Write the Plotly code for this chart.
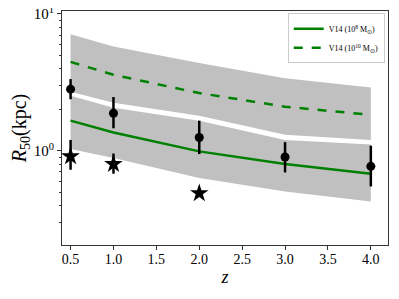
import numpy as np
import plotly.graph_objects as go

# model redshifts
z_model = [0.5, 1.0, 2.0, 3.0, 4.0]
# V14 10^10 Msun (dashed) and its band
r_hi = [4.46, 3.59, 2.64, 2.10, 1.83]
r_hi_up = [7.11, 5.77, 4.37, 3.39, 2.90]
r_hi_lo = [2.70, 2.24, 1.80, 1.31, 1.20]
# V14 10^8 Msun (solid) and its band
r_lo = [1.66, 1.36, 0.99, 0.80, 0.68]
r_lo_up = [2.52, 2.06, 1.66, 1.20, 1.11]
r_lo_lo = [1.03, 0.885, 0.632, 0.505, 0.427]

# observed points (circles)
z_obs = [0.5, 1.0, 2.0, 3.0, 4.0]
r_obs = [2.82, 1.88, 1.25, 0.90, 0.77]
r_obs_up = [3.34, 2.47, 1.66, 1.157, 1.09]
r_obs_dn = [2.38, 1.46, 0.946, 0.695, 0.549]

# stars
z_star = [0.5, 1.0, 2.0]
r_star = [0.91, 0.80, 0.49]
r_star_up = [1.20, 0.955, 0.49]
r_star_dn = [0.727, 0.68, 0.49]

x_ticks = [0.5, 1.0, 1.5, 2.0, 2.5, 3.0, 3.5, 4.0]

GRAY = "#c0c0c0"
GREEN = "#008000"
FONT = "Liberation Serif"

fig = go.Figure()

for lo, up in [(r_hi_lo, r_hi_up), (r_lo_lo, r_lo_up)]:
    fig.add_trace(go.Scatter(x=z_model, y=lo, mode="lines", line=dict(width=0, color=GRAY),
                             showlegend=False, hoverinfo="skip"))
    fig.add_trace(go.Scatter(x=z_model, y=up, mode="lines", line=dict(width=0, color=GRAY),
                             fill="tonexty", fillcolor=GRAY, showlegend=False, hoverinfo="skip"))

fig.add_trace(go.Scatter(x=z_model, y=r_lo, mode="lines", line=dict(color=GREEN, width=2.5),
                         name="V14 (10<sup>8</sup> M<sub>⊙</sub>)"))
fig.add_trace(go.Scatter(x=z_model, y=r_hi, mode="lines", line=dict(color=GREEN, width=2.5, dash="dash"),
                         name="V14 (10<sup>10</sup> M<sub>⊙</sub>)"))

fig.add_trace(go.Scatter(
    x=z_obs, y=r_obs, mode="markers", marker=dict(symbol="circle", size=9, color="black"),
    error_y=dict(type="data", symmetric=False,
                 array=[u - v for u, v in zip(r_obs_up, r_obs)],
                 arrayminus=[v - d for v, d in zip(r_obs, r_obs_dn)],
                 color="black", thickness=2.5, width=0),
    showlegend=False))

fig.add_trace(go.Scatter(
    x=z_star, y=r_star, mode="markers", marker=dict(symbol="star", size=14, color="black"),
    error_y=dict(type="data", symmetric=False,
                 array=[u - v for u, v in zip(r_star_up, r_star)],
                 arrayminus=[v - d for v, d in zip(r_star, r_star_dn)],
                 color="black", thickness=2.5, width=0),
    showlegend=False))

minor_vals = [0.3, 0.4, 0.5, 0.6, 0.7, 0.8, 0.9, 2, 3, 4, 5, 6, 7, 8, 9]

fig.update_layout(
    width=383, height=283,
    margin=dict(l=54, r=3, t=3, b=46),
    plot_bgcolor="white", paper_bgcolor="white",
    font=dict(family=FONT, color="black", size=14),
    legend=dict(x=0.99, y=0.99, xanchor="right", yanchor="top", traceorder="normal",
                bgcolor="rgba(255,255,255,0.8)", bordercolor="#cccccc", borderwidth=1,
                font=dict(family=FONT, size=8, color="black"), tracegroupgap=0, itemwidth=30),
    xaxis=dict(range=[0.4, 4.2], tickvals=x_ticks, ticktext=[f"{v:.1f}" for v in x_ticks],
               tickfont=dict(size=14, color="black"), automargin=False, ticklabelstandoff=-3,
               ticklabeloverflow="allow",
               ticks="outside", ticklen=4, tickcolor="#333333", showgrid=False, zeroline=False,
               showline=True, linecolor="#333333", linewidth=1, mirror=True,
               title=dict(text="<i>z</i>", font=dict(size=18), standoff=4)),
    yaxis=dict(type="log", range=[np.log10(0.205), np.log10(10.5)],
               tickvals=[1, 10], ticktext=["10<sup>0</sup>", "10<sup>1</sup>"],
               tickfont=dict(size=15, color="black"), automargin=False,
               ticklabeloverflow="allow",
               ticks="outside", ticklen=4, tickcolor="#333333", showgrid=False, zeroline=False,
               showline=True, linecolor="#333333", linewidth=1, mirror=True,
               minor=dict(tickvals=minor_vals, ticks="outside", ticklen=2, tickcolor="#333333", showgrid=False),
               title=dict(text="<i>R</i><sub>50</sub>(kpc)", font=dict(size=20), standoff=6)),
)

fig.write_html("out.html")
